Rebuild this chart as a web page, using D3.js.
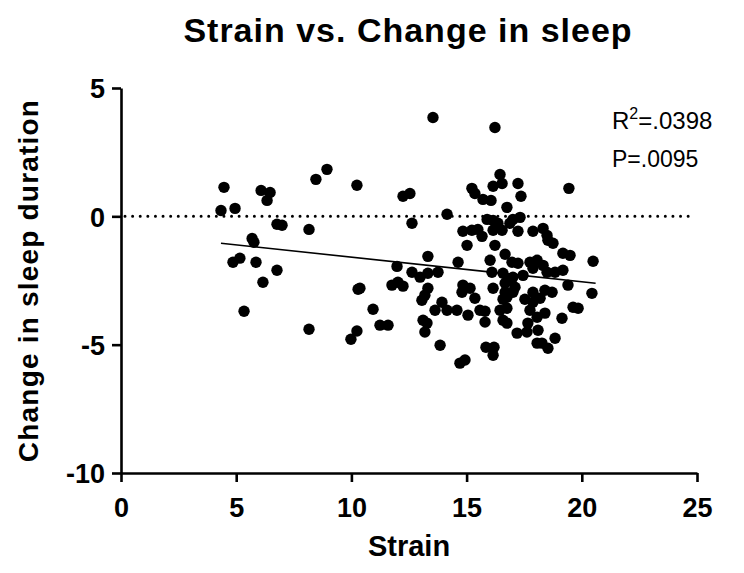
<!DOCTYPE html>
<html>
<head>
<meta charset="utf-8">
<script src="https://cdn.jsdelivr.net/npm/d3@7"></script>
<style>
  html, body { margin: 0; padding: 0; background: #fff; }
  svg { display: block; font-family: "Liberation Sans", Arial, sans-serif; }
</style>
</head>
<body>
<svg id="chart" width="744" height="573"></svg>
<script>
// ---- data ----
const strain = [
  4.47, 4.34, 4.95, 6.08, 6.47, 6.34, 8.46, 8.94, 10.24, 6.77,
  6.99, 8.16, 5.69, 5.77, 4.86, 5.16, 5.86, 6.77, 6.16, 5.34,
  8.16, 10.29, 10.37, 10.94, 11.24, 11.59, 10.24, 9.98, 13.54, 16.23,
  12.24, 12.54, 14.15, 12.63, 11.76, 12.02, 12.24, 11.98, 12.63, 12.98,
  13.32, 13.76, 13.32, 13.32, 13.19, 13.06, 13.11, 13.28, 13.19, 13.85,
  13.63, 13.93, 14.15, 14.58, 14.63, 14.84, 14.80, 15.15, 15.36, 15.06,
  15.58, 15.80, 15.80, 15.84, 16.15, 14.71, 14.93, 14.84, 15.23, 15.49,
  15.02, 16.23, 16.10, 16.02, 16.15, 16.45, 16.54, 16.15, 17.23, 15.23,
  15.36, 15.71, 16.06, 17.36, 16.75, 15.89, 16.15, 16.36, 17.01, 17.32,
  16.88, 15.67, 16.15, 16.54, 17.23, 17.88, 16.67, 16.97, 17.23, 17.75,
  18.06, 16.58, 16.88, 17.45, 16.67, 17.10, 17.88, 16.58, 16.45, 16.75,
  17.53, 17.75, 17.66, 17.19, 17.62, 18.10, 18.06, 16.19, 18.06, 19.44,
  18.32, 18.49, 18.53, 18.75, 19.18, 19.49, 20.49, 18.32, 17.88, 18.49,
  18.84, 19.18, 19.40, 20.44, 18.40, 18.71, 17.88, 18.19, 19.62, 19.84,
  18.40, 19.14, 18.84, 18.27, 18.53, 17.01, 16.67, 17.01, 16.75, 16.75,
  16.58
];
const sleepChange = [
  1.13, 0.23, 0.31, 1.01, 0.93, 0.62, 1.44, 1.83, 1.21, -0.31,
  -0.35, -0.51, -0.86, -1.01, -1.79, -1.63, -1.79, -2.10, -2.57, -3.70,
  -4.40, -2.84, -2.80, -3.62, -4.24, -4.24, -4.47, -4.79, 3.85, 3.46,
  0.78, 0.89, 0.08, -0.27, -2.68, -2.57, -2.72, -1.95, -2.18, -2.37,
  -2.22, -2.18, -1.56, -2.80, -3.07, -3.27, -4.05, -4.16, -4.51, -5.02,
  -3.66, -3.35, -3.66, -3.66, -1.79, -2.68, -2.96, -2.80, -3.19, -3.85,
  -3.66, -3.70, -4.12, -5.10, -5.41, -5.72, -5.60, -0.58, -0.54, -0.51,
  -1.13, -1.13, -2.18, -1.71, -2.80, 1.63, 1.28, 1.17, 1.28, 1.09,
  0.89, 0.66, 0.62, 0.78, 0.35, -0.12, -0.16, -0.27, -0.12, -0.04,
  -0.27, -0.78, -0.54, -0.54, -0.58, -0.58, -1.48, -1.79, -1.83, -1.79,
  -1.71, -2.22, -2.49, -2.30, -2.96, -2.76, -2.96, -3.23, -3.66, -4.16,
  -3.23, -3.66, -4.16, -4.55, -4.51, -4.44, -3.93, -5.10, -4.94, 1.09,
  -0.47, -0.74, -0.93, -1.05, -1.44, -1.52, -1.75, -1.91, -2.02, -2.18,
  -2.18, -2.10, -2.68, -3.00, -2.88, -2.96, -3.35, -3.19, -3.54, -3.58,
  -3.77, -3.97, -4.75, -4.94, -5.14, -2.37, -2.61, -2.96, -3.15, -3.58,
  -4.05
];
const xTicks = [0, 5, 10, 15, 20, 25];
const yTicks = [5, 0, -5, -10];
const fitSlope = -0.096;
const fitIntercept = -0.63;
const fitRange = [4.34, 20.6];
const statR2 = ".0398";
const statP = ".0095";
const titleText = "Strain vs. Change in sleep";
const xLabel = "Strain";
const yLabel = "Change in sleep duration";

// ---- drawing ----
const svg = d3.select("#chart");
const x = d3.scaleLinear().domain([0, 25]).range([121, 697]);
const y = d3.scaleLinear().domain([-10, 5]).range([473, 88]);

// title
svg.append("text")
  .attr("x", 408).attr("y", 42)
  .attr("text-anchor", "middle")
  .attr("font-size", 34).attr("font-weight", "bold")
  .attr("letter-spacing", 1)
  .text(titleText);

// zero dotted line
svg.append("line")
  .attr("x1", x(0) + 4).attr("x2", x(25) - 4)
  .attr("y1", y(0)).attr("y2", y(0))
  .attr("stroke", "#000").attr("stroke-width", 3)
  .attr("stroke-linecap", "round")
  .attr("stroke-dasharray", "0.01 7.6");

// points
const pts = strain.map((s, i) => ({ s, c: sleepChange[i] }));
svg.append("g").selectAll("circle").data(pts).join("circle")
  .attr("cx", d => x(d.s)).attr("cy", d => y(d.c))
  .attr("r", 5.7).attr("fill", "#000");

// regression line
svg.append("line")
  .attr("x1", x(fitRange[0])).attr("y1", y(fitIntercept + fitSlope * fitRange[0]))
  .attr("x2", x(fitRange[1])).attr("y2", y(fitIntercept + fitSlope * fitRange[1]))
  .attr("stroke", "#000").attr("stroke-width", 1.6);

// axes
const fmt = d => String(d);
const xAxis = svg.append("g").attr("transform", `translate(0,${y(-10)})`)
  .call(d3.axisBottom(x).tickValues(xTicks).tickFormat(fmt).tickSize(9).tickSizeOuter(0).tickPadding(12));
const yAxis = svg.append("g").attr("transform", `translate(${x(0)},0)`)
  .call(d3.axisLeft(y).tickValues(yTicks).tickFormat(fmt).tickSize(9).tickSizeOuter(0).tickPadding(7));
[xAxis, yAxis].forEach(g => {
  g.select(".domain").attr("stroke-width", 2.6);
  g.selectAll(".tick line").attr("stroke-width", 2.6);
  g.selectAll(".tick text")
    .attr("font-size", 27).attr("font-weight", "bold")
    .attr("font-family", "Liberation Sans, Arial, sans-serif")
    .attr("fill", "#000");
});
xAxis.selectAll(".tick text").attr("dy", "0.85em");
yAxis.selectAll(".tick text").attr("dy", "0.36em");

// axis labels
svg.append("text")
  .attr("x", x(12.5)).attr("y", 556)
  .attr("text-anchor", "middle")
  .attr("font-size", 29).attr("font-weight", "bold")
  .text(xLabel);
svg.append("text")
  .attr("transform", `translate(38,${y(-2.5)}) rotate(-90)`)
  .attr("text-anchor", "middle")
  .attr("font-size", 28).attr("font-weight", "bold")
  .attr("letter-spacing", 1.2)
  .text(yLabel);

// stats
const stat = svg.append("g").attr("font-size", 24);
const r2 = stat.append("text").attr("x", 612).attr("y", 129);
r2.append("tspan").text("R");
r2.append("tspan").attr("font-size", 16).attr("dy", -10).text("2");
r2.append("tspan").attr("dy", 10).text("=" + statR2);
stat.append("text").attr("x", 612).attr("y", 167).attr("font-size", 23).text("P=" + statP);
</script>
</body>
</html>
